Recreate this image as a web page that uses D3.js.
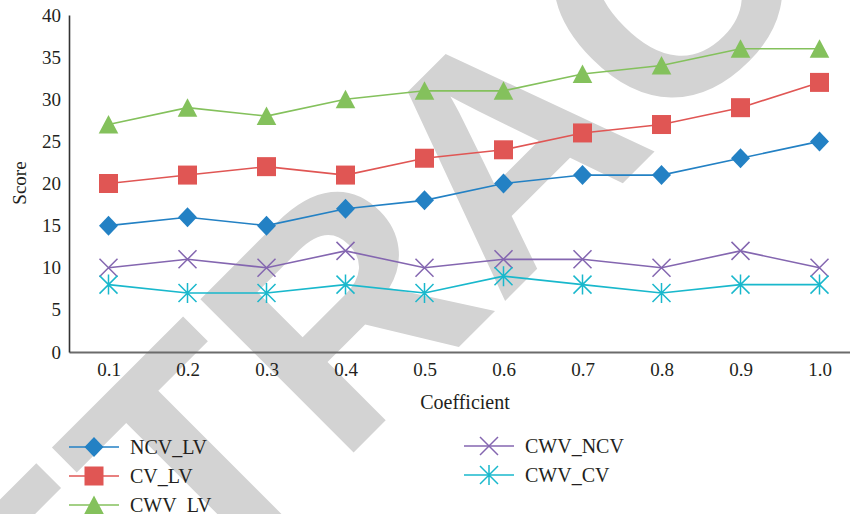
<!DOCTYPE html>
<html>
<head>
<meta charset="utf-8">
<script src="https://cdn.jsdelivr.net/npm/d3@7"></script>
<style>
  body { margin: 0; background: #fff; }
  svg { display: block; }
  text { font-family: "Liberation Serif", "Times New Roman", serif; fill: #231f20; }
</style>
</head>
<body>
<div id="chart"></div>
<script>
// data
var coefficients = ["0.1", "0.2", "0.3", "0.4", "0.5", "0.6", "0.7", "0.8", "0.9", "1.0"];
var ncvLv   = [15, 16, 15, 17, 18, 20, 21, 21, 23, 25];
var cvLv    = [20, 21, 22, 21, 23, 24, 26, 27, 29, 32];
var cwvLv   = [27, 29, 28, 30, 31, 31, 33, 34, 36, 36];
var cwvNcv  = [10, 11, 10, 12, 10, 11, 11, 10, 12, 10];
var cwvCv   = [8, 7, 7, 8, 7, 9, 8, 7, 8, 8];
var yTicks  = [0, 5, 10, 15, 20, 25, 30, 35, 40];

var series = [
    {name: "NCV_LV",  values: ncvLv,  color: "#2381c4", marker: "diamond"},
    {name: "CV_LV",   values: cvLv,   color: "#e05654", marker: "square"},
    {name: "CWV_LV",  values: cwvLv,  color: "#84c15c", marker: "triangle"},
    {name: "CWV_NCV", values: cwvNcv, color: "#8466b0", marker: "cross"},
    {name: "CWV_CV",  values: cwvCv,  color: "#19b8cc", marker: "star"}
];

var width = 850,
    height = 514;

var svg = d3.select("#chart")
    .append("svg")
    .attr("width", width)
    .attr("height", height);

// retraction watermark, sits behind everything
svg.append("text")
    .attr("transform", "translate(580,226) rotate(-45)")
    .attr("text-anchor", "middle")
    .style("font-family", "'Liberation Sans', Arial, sans-serif")
    .style("font-weight", "bold")
    .style("font-size", "315px")
    .style("fill", "#d3d3d3")
    .text("RETRACTED");

var x = d3.scalePoint().domain(coefficients).range([69, 859]).padding(0.5);
var y = d3.scaleLinear().domain([0, 40]).range([352, 15]);

var xAxis = svg.append("g")
    .attr("transform", "translate(0,352)")
    .call(d3.axisBottom(x).tickSize(0).tickPadding(11));
xAxis.select(".domain").attr("stroke", "#6b6b6b").attr("stroke-width", 2.2);
xAxis.selectAll("text").style("font-size", "19px").style("fill", "#231f20");

var yAxis = svg.append("g")
    .attr("transform", "translate(69,0)")
    .call(d3.axisLeft(y).tickValues(yTicks).tickSize(0).tickPadding(8));
yAxis.select(".domain").attr("stroke", "#333").attr("stroke-width", 1.6);
yAxis.selectAll("text").style("font-size", "19px").style("fill", "#231f20");

svg.append("text")
    .attr("transform", "translate(26,183) rotate(-90)")
    .attr("text-anchor", "middle")
    .style("font-size", "19px")
    .text("Score");

svg.append("text")
    .attr("x", 465)
    .attr("y", 409)
    .attr("text-anchor", "middle")
    .style("font-size", "20px")
    .text("Coefficient");

function drawMarker(g, type, color) {
    if (type == "diamond") {
        g.append("path").attr("d", "M0,-10L9.5,0L0,10L-9.5,0Z").attr("fill", color);
    } else if (type == "square") {
        g.append("rect").attr("x", -9.5).attr("y", -9.5).attr("width", 19).attr("height", 19).attr("fill", color);
    } else if (type == "triangle") {
        g.append("path").attr("d", "M0,-9.5L9.8,9L-9.8,9Z").attr("fill", color);
    } else if (type == "cross") {
        g.append("path").attr("d", "M-9,-9L9,9M-9,9L9,-9")
            .attr("stroke", color).attr("stroke-width", 1.5).attr("fill", "none");
    } else {
        g.append("path").attr("d", "M0,-10L0,10M-9,-9L9,9M-9,9L9,-9")
            .attr("stroke", color).attr("stroke-width", 1.5).attr("fill", "none");
    }
}

var line = d3.line()
    .x(function (d, i) { return x(coefficients[i]); })
    .y(function (d) { return y(d); });

series.forEach(function (s) {
    svg.append("path")
        .datum(s.values)
        .attr("d", line)
        .attr("fill", "none")
        .attr("stroke", s.color)
        .attr("stroke-width", 1.6);

    svg.selectAll(".pt-" + s.marker)
        .data(s.values)
        .enter().append("g")
        .attr("class", "pt-" + s.marker)
        .attr("transform", function (d, i) {
            return "translate(" + x(coefficients[i]) + "," + y(d) + ")";
        })
        .each(function () { drawMarker(d3.select(this), s.marker, s.color); });
});

// legend, two columns
var legendPos = [
    {x: 69, y: 447}, {x: 69, y: 476}, {x: 69, y: 505},
    {x: 464, y: 446}, {x: 464, y: 475}
];

series.forEach(function (s, i) {
    var p = legendPos[i];
    var g = svg.append("g").attr("transform", "translate(" + p.x + "," + p.y + ")");
    g.append("line")
        .attr("x1", 0).attr("x2", 50)
        .attr("stroke", s.color).attr("stroke-width", 1.6);
    drawMarker(g.append("g").attr("transform", "translate(25,0)"), s.marker, s.color);
    g.append("text")
        .attr("x", 61)
        .attr("dy", "0.35em")
        .style("font-size", "20px")
        .text(s.name);
});
</script>
</body>
</html>
